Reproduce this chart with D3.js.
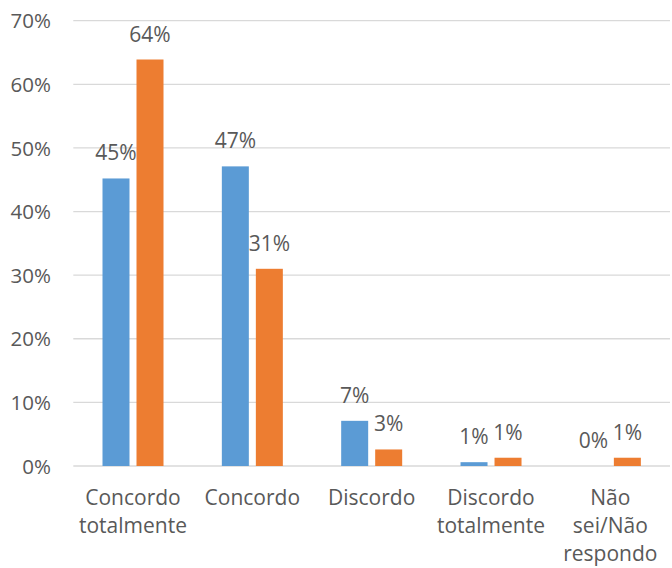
<!DOCTYPE html>
<html><head><meta charset="utf-8">
<script src="https://cdn.jsdelivr.net/npm/d3@7"></script>
<style>body{margin:0;background:#fff}svg{display:block}text{font-family:"Open Sans",sans-serif;fill:#595959}</style>
</head><body>
<script>
const categories = ["Concordo totalmente", "Concordo", "Discordo", "Discordo totalmente", "Não sei/Não respondo"];
const categoryLines = [["Concordo","totalmente"],["Concordo"],["Discordo"],["Discordo","totalmente"],["Não","sei/Não","respondo"]];
const series1 = [0.452, 0.471, 0.071, 0.006, 0.0];
const series2 = [0.639, 0.310, 0.026, 0.013, 0.013];
const yTicks = [0, 0.1, 0.2, 0.3, 0.4, 0.5, 0.6, 0.7];
const colors = ["#5B9BD5", "#ED7D31"];

const W = 672, H = 568;
const svg = d3.select("body").append("svg").attr("width", W).attr("height", H);
const y = d3.scaleLinear().domain([0, 0.7]).range([466, 20.7]);
const x0 = d3.scaleBand().domain(categories).range([73.3, 670]).padding(0);
const x1 = d3.scaleBand().domain([0, 1]).range([29.2, 90.2]).paddingInner(0.206).paddingOuter(0);
const fmt = d3.format(".0%");

// grid
svg.append("g").selectAll("line").data(yTicks).join("line")
  .attr("x1", 73.3).attr("x2", 670).attr("y1", d => y(d)).attr("y2", d => y(d))
  .attr("stroke", "#D9D9D9").attr("stroke-width", 1.3);

// y labels
const yAxis = d3.axisLeft(y).tickValues(yTicks).tickFormat(fmt).tickSize(0).tickPadding(0);
const ya = svg.append("g").attr("transform", "translate(51,0)").call(yAxis);
ya.select(".domain").remove();
ya.selectAll("text").attr("font-size", 20.5).attr("fill", "#595959").attr("font-family", "Open Sans").attr("dy", "0.35em");

const data = categories.map((c, i) => ({c, vals: [series1[i], series2[i]]}));
const groups = svg.append("g").selectAll("g").data(data).join("g")
  .attr("transform", d => `translate(${x0(d.c)},0)`);
groups.selectAll("rect").data(d => d.vals.map((v, k) => ({v, k}))).join("rect")
  .attr("x", d => x1(d.k)).attr("width", x1.bandwidth())
  .attr("y", d => y(d.v)).attr("height", d => y(0) - y(d.v))
  .attr("fill", d => colors[d.k]);
groups.selectAll("text.lbl").data(d => d.vals.map((v, k) => ({v, k}))).join("text")
  .attr("class", "lbl")
  .attr("x", d => x1(d.k) + x1.bandwidth() / 2).attr("y", d => y(d.v) - 18)
  .attr("text-anchor", "middle").attr("font-size", 21).text(d => fmt(d.v));

// x labels
const xl = svg.append("g").selectAll("text").data(categories).join("text")
  .attr("x", d => x0(d) + x0.bandwidth() / 2).attr("y", 505)
  .attr("text-anchor", "middle").attr("font-size", 21);
xl.selectAll("tspan").data((d, i) => categoryLines[i]).join("tspan")
  .attr("x", function () { return this.parentNode.getAttribute("x"); })
  .attr("dy", (d, i) => i === 0 ? 0 : 28).text(d => d);
</script>
</body></html>
